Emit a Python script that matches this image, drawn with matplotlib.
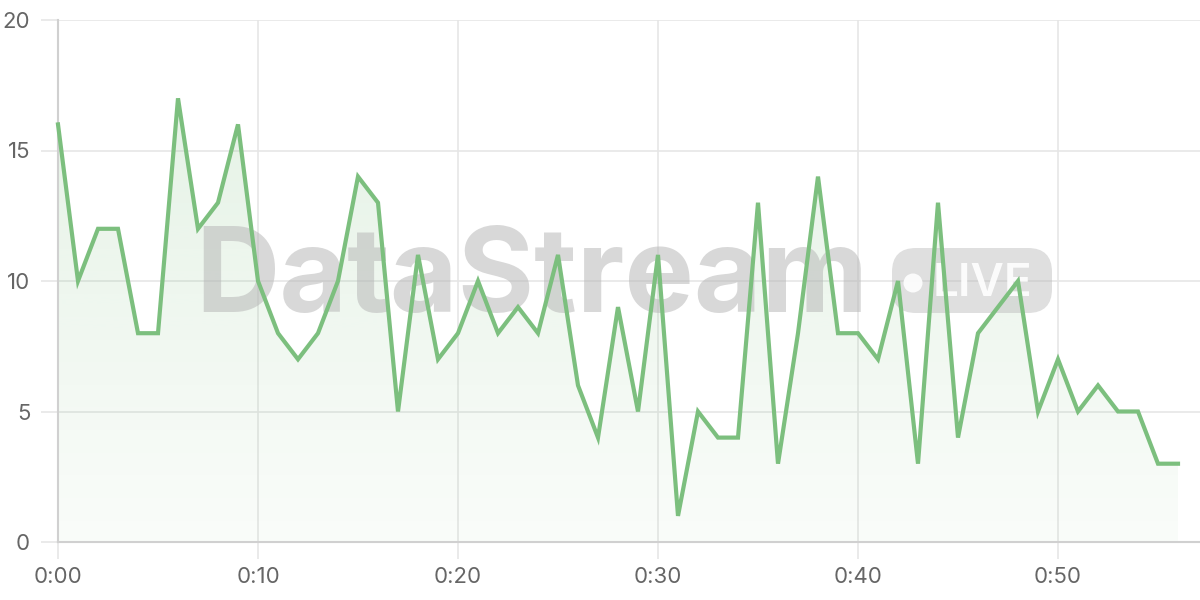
import matplotlib
matplotlib.use("Agg")
import matplotlib.pyplot as plt
import numpy as np
from matplotlib.patches import FancyBboxPatch, Circle, Polygon

minutes = list(range(57))
values = [16, 10, 12, 12, 8, 8, 17, 12, 13, 16,
          10, 8, 7, 8, 10, 14, 13, 5, 11, 7,
          8, 10, 8, 9, 8, 11, 6, 4, 9, 5,
          11, 1, 5, 4, 4, 13, 3, 8, 14, 8,
          8, 7, 10, 3, 13, 4, 8, 9, 10, 5,
          7, 5, 6, 5, 5, 3, 3]
xticks = [0, 10, 20, 30, 40, 50]
xticklabels = ["0:00", "0:10", "0:20", "0:30", "0:40", "0:50"]
yticks = [0, 5, 10, 15, 20]

line_color = "#7cbf7e"
plt.rcParams['font.family'] = ['Inter', 'DejaVu Sans']

fig = plt.figure(figsize=(12, 6), dpi=100)
ax = fig.add_axes([58/1200, 58/600, 1142/1200, 522/600])
ax.set_xlim(0, 57.1)
ax.set_ylim(0, 20)

# gradient fill
x = np.array(minutes)
y = np.array(values)
grad = np.linspace(0.04, 0.22, 256).reshape(-1, 1)
rgba = np.zeros((256, 1, 4))
rgba[..., 0] = 124/255
rgba[..., 1] = 191/255
rgba[..., 2] = 126/255
rgba[..., 3] = grad
im = ax.imshow(rgba, extent=[0, 56, 0, 20], origin='lower', aspect='auto', zorder=1)
poly = Polygon(np.column_stack([np.r_[x, x[-1], x[0]], np.r_[y, 0, 0]]),
               closed=True, transform=ax.transData, facecolor='none', edgecolor='none')
ax.add_patch(poly)
im.set_clip_path(poly)

# watermark overlay axes in pixel coordinates
wax = fig.add_axes([0, 0, 1, 1], zorder=5)
wax.set_xlim(0, 1200)
wax.set_ylim(600, 0)
wax.axis('off')
wax.patch.set_alpha(0)
wax.text(532, 312, "DataStream", fontsize=84, fontweight='bold',
         color='#b8b8b8', alpha=0.55, ha='center', va='baseline')
pill = FancyBboxPatch((892, 248), 160, 65, boxstyle="round,pad=0,rounding_size=24",
                      facecolor='#b8b8b8', alpha=0.45, edgecolor='none')
wax.add_patch(pill)
wax.add_patch(Circle((913, 283), 9.5, facecolor='white', edgecolor='none', alpha=0.9))
wax.text(982, 296, "LIVE", fontsize=33, color='white', ha='center', va='baseline',
         fontweight='semibold', alpha=0.9)

# line on top of watermark
lax = fig.add_axes(ax.get_position(), zorder=6, sharex=ax, sharey=ax)
lax.axis('off')
lax.patch.set_alpha(0)
lax.plot(x, y, color=line_color, lw=3, solid_joinstyle='miter', clip_on=False)

ax.set_xticks(xticks)
ax.set_xticklabels(xticklabels)
ax.set_yticks(yticks)
ax.grid(True, color='#e6e6e6', lw=1.2, zorder=0)
ax.set_axisbelow(True)
for s in ['top', 'right']:
    ax.spines[s].set_visible(False)
for s in ['left', 'bottom']:
    ax.spines[s].set_color('#d0d0d0')
    ax.spines[s].set_linewidth(1.5)
ax.tick_params(axis='both', length=12, color='#e6e6e6', width=1.2, labelsize=16, labelcolor='#666666')
ax.tick_params(axis='x', pad=6)
ax.tick_params(axis='y', pad=8)

fig.savefig("out.png", dpi=100)
